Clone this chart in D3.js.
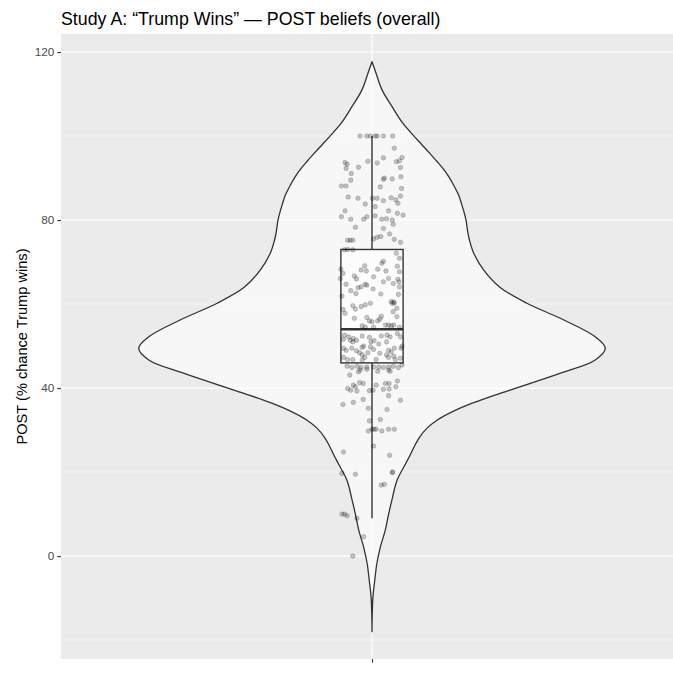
<!DOCTYPE html>
<html>
<head>
<meta charset="utf-8">
<script src="https://cdn.jsdelivr.net/npm/d3@7"></script>
<style>
  html, body { margin: 0; padding: 0; background: #fff; }
  svg { display: block; font-family: "Liberation Sans", Arial, Helvetica, sans-serif; }
</style>
</head>
<body>
<svg id="chart" width="673" height="677"></svg>
<script>
// ---- data ---------------------------------------------------------------
const titleText = "Study A: \u201cTrump Wins\u201d \u2014 POST beliefs (overall)";
const yAxisTitle = "POST (% chance Trump wins)";
const category = ["overall"];
const yTicks = [0, 40, 80, 120];
const yMinorTicks = [-20, 20, 60, 100];

// Kernel density outline of POST: value and density scaled to its peak
const violinValue = [117.7, 115, 111, 107, 103, 100, 98, 96, 94, 92, 90, 88, 86, 84, 82, 80, 77, 75.2, 72, 68, 64, 60.2, 56.2, 52.2, 49.5, 46.7, 43.5, 40.3, 38.4, 36.4, 34.4, 32.4, 30.4, 28.4, 26.4, 24, 22, 18, 14, 9.4, 6.2, 2.2, -1.7, -5.7, -9.7, -14, -18];
const violinDensity = [0, 0.017, 0.043, 0.086, 0.133, 0.180, 0.213, 0.246, 0.278, 0.308, 0.333, 0.353, 0.371, 0.383, 0.394, 0.403, 0.411, 0.418, 0.437, 0.480, 0.548, 0.664, 0.823, 0.957, 1.000, 0.957, 0.805, 0.634, 0.530, 0.430, 0.345, 0.280, 0.235, 0.205, 0.184, 0.163, 0.144, 0.107, 0.088, 0.069, 0.057, 0.036, 0.021, 0.012, 0.004, 0.001, 0];

// Box summary: lower whisker, Q1, median, Q3, upper whisker
const boxStats = [9, 46, 54, 73, 100];

// Individual responses (POST) and their horizontal jitter in category units
const postValues = [
  100, 100, 100, 100, 100, 100, 100, 97.1, 93.7, 93.3, 92.3, 92.6, 94.0, 93.6, 94.8, 93.9, 94.1, 94.9, 92.5, 91.1,
  89.7, 90, 89.8, 90.3, 89.5, 88.1, 88.1, 87.9, 87.5, 85.5, 85.2, 85.2, 85.2, 84.6, 85.3, 84.8, 85.7, 84.0, 83.8, 83.2,
  82.2, 82.2, 80.8, 80.2, 80.2, 80.8, 81.0, 80.2, 80.3, 80.0, 79.0, 81.6, 81.2, 78.3, 78.0, 76.7, 75.2, 75.2, 75.2, 75.5,
  75.9, 76.1, 75.4, 74.7, 72.9, 73.0, 72.9, 72.1, 70.9, 69.0, 70.2, 69.7, 69.1, 68.1, 67.9, 68.3, 67.3, 68.3, 67.9, 66.7,
  66.0, 66.5, 66.1, 67.7, 66.1, 65.3, 65.9, 65.3, 64.9, 64.7, 64.7, 64.5, 63.9, 64.1, 63.2, 63.6, 64.1, 62.5, 62.4, 62.3,
  61.9, 60.6, 60.5, 60.2, 60.2, 60.2, 59.8, 59.6, 58.8, 59.4, 59.0, 58.2, 58.7, 57.8, 56.8, 56.6, 57.1, 56.4, 56.0, 56.0,
  55.8, 57.0, 55.0, 55.0, 54.8, 54.8, 54.5, 54.5, 55.0, 54.5, 52.6, 52.2, 51.6, 51.8, 51.4, 52.4, 52.1, 52.4, 52.6, 52.2,
  53.0, 52.2, 51.4, 51.0, 51.0, 51.3, 50.0, 49.7, 49.8, 50.5, 51.0, 49.0, 48.6, 49.5, 50.0, 49.5, 49.5, 49.0, 49.5, 48.9,
  48.4, 47.9, 47.3, 48.4, 49.2, 48.3, 47.9, 47.3, 47.6, 47.1, 47.3, 46.8, 46.8, 46.7, 46.8, 46.8, 45.2, 44.9, 45.2, 44.9,
  45.0, 45.0, 45.0, 44.9, 45.0, 45.2, 44.9, 45.5, 44.3, 44.5, 44.0, 44.3, 44.0, 43.9, 43.1, 41.7, 41.3, 41.1, 40.7, 40.3,
  40.7, 41.1, 41.1, 40.3, 39.9, 39.5, 39.3, 39.4, 39.5, 39.7, 39.8, 38.2, 36.1, 36.6, 37.3, 37.1, 35.2, 34.9, 32.2, 32.5,
  29.8, 30.2, 30.2, 30.2, 29.8, 30.2, 30.2, 26.2, 24.8, 24.0, 19.7, 19.5, 19.9, 20.0, 16.9, 17.1, 10, 10, 9.6, 9.0,
  4.6, 0
];
const postJitter = [
  -0.023, -0.010, -0.003, 0.006, 0.010, 0.022, 0.040, 0.043, -0.052, -0.048, -0.050, -0.026, -0.008, 0.010, 0.022, 0.047, 0.053, 0.058, 0.055, -0.040,
  0.022, 0.024, 0.039, 0.056, -0.041, -0.059, -0.050, 0.016, 0.057, -0.046, -0.027, 0.001, 0.010, 0.022, 0.037, 0.046, 0.055, 0.050, -0.013, 0.006,
  -0.052, 0.032, -0.059, -0.041, -0.016, -0.010, 0.006, 0.019, 0.028, 0.039, 0.041, 0.049, 0.060, -0.032, 0.022, 0.034, -0.047, -0.042, -0.037, 0.003,
  0.010, 0.017, 0.043, 0.055, -0.053, -0.047, -0.037, 0.047, 0.053, 0.049, 0.022, 0.019, -0.014, -0.021, -0.011, -0.060, -0.056, 0.011, 0.027, -0.034,
  -0.030, 0.003, 0.032, 0.053, -0.061, 0.022, 0.050, 0.052, 0.041, -0.050, -0.013, -0.010, -0.027, -0.021, -0.041, 0.002, 0.053, -0.031, 0.017, 0.051,
  -0.058, 0.037, 0.042, 0.039, 0.043, -0.003, -0.013, -0.037, -0.032, -0.021, 0.048, 0.041, -0.056, -0.052, -0.010, -0.034, 0.018, 0.015, 0.011, -0.005,
  0.000, 0.048, 0.026, 0.032, 0.037, -0.019, -0.013, 0.003, 0.042, 0.053, -0.053, -0.045, -0.055, -0.036, -0.030, -0.019, -0.005, 0.018, 0.029, 0.035,
  0.049, 0.055, -0.042, -0.037, -0.002, 0.004, -0.016, -0.019, -0.003, 0.013, 0.028, 0.032, 0.037, 0.043, 0.058, 0.056, -0.055, -0.050, -0.039, -0.030,
  -0.024, -0.019, -0.014, -0.008, 0.003, 0.015, 0.028, 0.032, 0.042, 0.055, -0.055, -0.047, -0.037, -0.019, 0.008, 0.045, -0.048, -0.039, -0.029, -0.021,
  -0.010, 0.003, 0.013, 0.022, 0.032, 0.041, 0.051, 0.058, -0.023, -0.010, 0.011, 0.032, 0.035, -0.026, -0.043, 0.049, -0.024, -0.017, -0.036, -0.032,
  0.008, 0.026, 0.033, 0.046, -0.047, -0.041, -0.029, -0.005, 0.002, 0.022, 0.033, 0.032, -0.056, -0.036, -0.017, 0.055, -0.007, 0.029, -0.005, 0.016,
  -0.007, 0.000, 0.004, 0.008, 0.019, 0.032, 0.043, 0.003, -0.055, 0.034, -0.058, -0.032, 0.039, 0.040, 0.018, 0.024, -0.058, -0.053, -0.048, -0.029,
  -0.016, -0.037
];

// ---- layout -------------------------------------------------------------
const svg = d3.select("#chart");
const panel = { left: 61, top: 34, width: 622, bottom: 659 };

const x = d3.scaleLinear().domain([0.4, 1.6]).range([panel.left, panel.left + panel.width]);
const y = d3.scaleLinear().domain([-24.5, 124.3]).range([panel.bottom, panel.top]);
const unit = x(1) - x(0);          // pixels per category unit
const cx = x(1);                   // centre of the single category
const violinWidth = 0.9, boxWidth = 0.12;

// panel background
svg.append("rect")
  .attr("x", panel.left).attr("y", panel.top)
  .attr("width", panel.width).attr("height", panel.bottom - panel.top)
  .attr("fill", "#EBEBEB");

// grid
const grid = svg.append("g");
grid.selectAll("line.minor").data(yMinorTicks).join("line")
  .attr("class", "minor")
  .attr("x1", panel.left).attr("x2", panel.left + panel.width)
  .attr("y1", d => y(d)).attr("y2", d => y(d))
  .attr("stroke", "#fff").attr("stroke-width", 0.55);
grid.selectAll("line.major").data(yTicks).join("line")
  .attr("class", "major")
  .attr("x1", panel.left).attr("x2", panel.left + panel.width)
  .attr("y1", d => y(d)).attr("y2", d => y(d))
  .attr("stroke", "#fff").attr("stroke-width", 1.1);
grid.append("line")
  .attr("x1", cx).attr("x2", cx)
  .attr("y1", panel.top).attr("y2", panel.bottom)
  .attr("stroke", "#fff").attr("stroke-width", 1.1);

// violin
const violinPts = violinValue.map((v, i) => ({ v, d: violinDensity[i] }));
const half = violinWidth / 2 * unit;
const violinArea = d3.area()
  .y(d => y(d.v))
  .x0(d => cx - d.d * half)
  .x1(d => cx + d.d * half)
  .curve(d3.curveCatmullRom.alpha(0.5));
svg.append("path")
  .datum(violinPts)
  .attr("d", violinArea)
  .attr("fill", "#fff").attr("fill-opacity", 0.6)
  .attr("stroke", "#333").attr("stroke-width", 1.3)
  .attr("stroke-linejoin", "round");

// box plot
const [wLo, q1, med, q3, wHi] = boxStats;
const bHalf = boxWidth / 2 * unit;
const box = svg.append("g").attr("stroke", "#333");
box.append("line").attr("x1", cx).attr("x2", cx).attr("y1", y(q3)).attr("y2", y(wHi)).attr("stroke-width", 1.4);
box.append("line").attr("x1", cx).attr("x2", cx).attr("y1", y(q1)).attr("y2", y(wLo)).attr("stroke-width", 1.4);
box.append("rect")
  .attr("x", cx - bHalf).attr("width", 2 * bHalf)
  .attr("y", y(q3)).attr("height", y(q1) - y(q3))
  .attr("fill", "#fff").attr("fill-opacity", 0.6)
  .attr("stroke-width", 1.4);
box.append("line")
  .attr("x1", cx - bHalf).attr("x2", cx + bHalf)
  .attr("y1", y(med)).attr("y2", y(med))
  .attr("stroke-width", 2.6);

// jittered responses
svg.append("g").selectAll("circle")
  .data(postValues.map((v, i) => ({ v, j: postJitter[i] })))
  .join("circle")
  .attr("cx", d => x(1 + d.j))
  .attr("cy", d => y(d.v))
  .attr("r", 2.3)
  .attr("fill", "#000").attr("fill-opacity", 0.22)
  .attr("stroke", "#000").attr("stroke-opacity", 0.22).attr("stroke-width", 0.7);

// y axis
const yAxis = svg.append("g")
  .attr("transform", `translate(${panel.left},0)`)
  .call(d3.axisLeft(y).tickValues(yTicks).tickSize(3.7).tickPadding(3).tickFormat(d3.format("d")));
yAxis.select(".domain").remove();
yAxis.selectAll(".tick line").attr("stroke", "#333").attr("stroke-width", 1.1);
yAxis.selectAll(".tick text")
  .attr("fill", "#4D4D4D").attr("font-size", 11.8)
  .attr("font-family", "Liberation Sans, Arial, sans-serif");

// x axis: single tick without label
const xAxis = svg.append("g")
  .attr("transform", `translate(0,${panel.bottom})`)
  .call(d3.axisBottom(x).tickValues([1]).tickSize(3.7).tickFormat(() => ""));
xAxis.select(".domain").remove();
xAxis.selectAll(".tick line").attr("stroke", "#333").attr("stroke-width", 1.1);

// titles
svg.append("text")
  .attr("x", panel.left).attr("y", 25)
  .attr("font-size", 17.8).attr("fill", "#000")
  .text(titleText);
svg.append("text")
  .attr("transform", `translate(27,${(panel.top + panel.bottom) / 2}) rotate(-90)`)
  .attr("text-anchor", "middle")
  .attr("font-size", 14.6).attr("fill", "#000")
  .text(yAxisTitle);
</script>
</body>
</html>
